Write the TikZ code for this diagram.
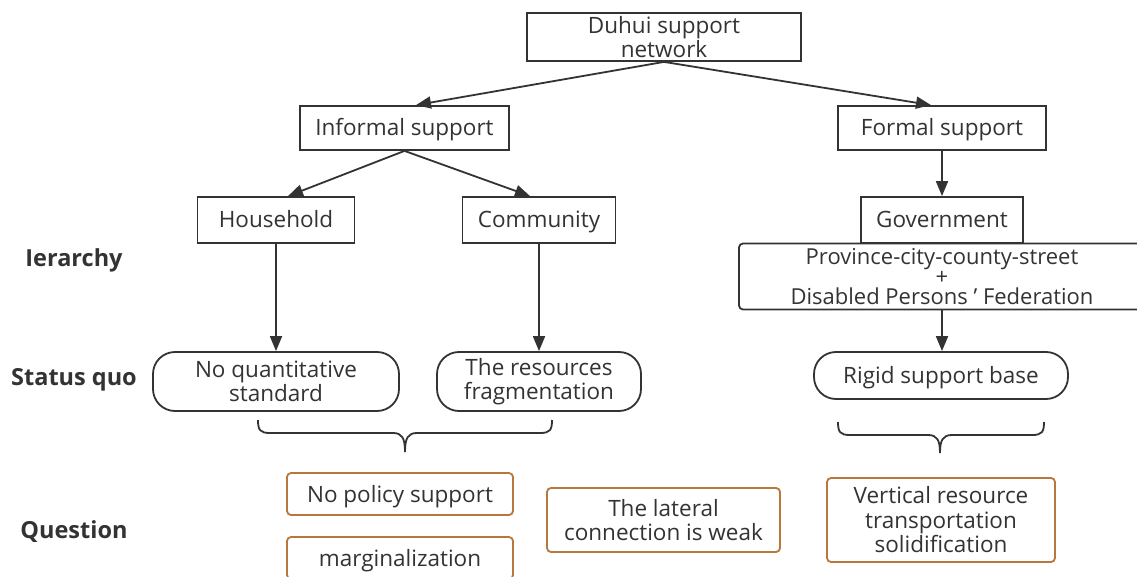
\documentclass[tikz,border=0pt]{standalone}
\usepackage{fontspec}
\setmainfont{Open Sans}
\usetikzlibrary{arrows.meta,calc}
\definecolor{ink}{HTML}{333333}
\definecolor{copper}{RGB}{184,120,60}
\begin{document}
\begin{tikzpicture}[x=1pt,y=-1pt,
 every node/.style={font=\fontsize{22.5}{24.5}\selectfont, text=ink, align=center, inner sep=0pt},
 one/.style={text height=16pt, text depth=0pt},
 box/.style={draw=ink, line width=1.8pt},
 stadium/.style={draw=ink, line width=1.8pt, rounded corners=22pt},
 qbox/.style={draw=copper, line width=1.8pt, rounded corners=4pt},
 lab/.style={font=\fontsize{23.5}{26}\selectfont\bfseries, one},
 arr/.style={draw=ink, line width=1.8pt, -{Triangle[length=15pt,width=12pt]}},
 brace/.style={draw=ink, line width=1.8pt}]
\useasboundingbox (0,0) rectangle (1137,577);
\fill[white] (0,0) rectangle (1137,577);

% top levels
\node[box, minimum width=274pt, minimum height=48pt] (duhui) at (664,37) {Duhui support\\network};
\node[box, one, minimum width=209pt, minimum height=44pt] (inf) at (404.5,128) {Informal support};
\node[box, one, minimum width=208pt, minimum height=44pt] (formal) at (942,128) {Formal support};
\node[box, one, minimum width=157pt, minimum height=46pt] (house) at (276,220) {Household};
\node[box, one, minimum width=153pt, minimum height=46pt] (comm) at (539,220) {Community};
\node[box, one, minimum width=162pt, minimum height=46pt] (gov) at (942,220) {Government};
\node[box, rounded corners=4pt, minimum width=406pt, minimum height=66pt, font=\fontsize{22}{20}\selectfont] (prov) at (942,276.5) {Province-city-county-street\\+\\Disabled Persons ' Federation};

% status quo
\node[stadium, minimum width=246pt, minimum height=59pt] (nq) at (276,381.5) {No quantitative\\standard};
\node[stadium, minimum width=204pt, minimum height=59pt] (res) at (539,381.5) {The resources\\fragmentation};
\node[stadium, one, minimum width=254pt, minimum height=47pt] (rigid) at (941,375.5) {Rigid support base};

% questions
\node[qbox, one, minimum width=226pt, minimum height=42pt] (pol) at (400,494) {No policy support};
\node[qbox, one, minimum width=226pt, minimum height=42pt] (marg) at (400,558) {marginalization};
\node[qbox, minimum width=233pt, minimum height=64pt] (lat) at (663.5,520) {The lateral\\connection is weak};
\node[qbox, minimum width=228pt, minimum height=84pt] (vert) at (941,520) {Vertical resource\\transportation\\solidification};

% row labels
\node[lab] (l1) at (74,258) {Ierarchy};
\node[lab] (l2) at (74,377) {Status quo};
\node[lab] (l3) at (74,530) {Question};

% connectors
\draw[arr] (duhui.south) -- ([xshift=11.5pt]inf.north);
\draw[arr] (duhui.south) -- ([xshift=-11pt]formal.north);
\draw[arr] (inf.south) -- ([xshift=12pt]house.north);
\draw[arr] (inf.south) -- ([xshift=-9pt]comm.north);
\draw[arr] (formal.south) -- (gov.north);
\draw[arr] (house.south) -- (house.south |- nq.north);
\draw[arr] (comm.south) -- (comm.south |- res.north);
\draw[arr] (prov.south) -- (prov.south |- rigid.north);

% braces
\draw[brace] (258,420) .. controls (258,430) and (260,433) .. (270,433) -- (393,433)
  .. controls (402,433) and (405,438) .. (405,452)
  .. controls (405,438) and (408,433) .. (417,433) -- (540,433)
  .. controls (550,433) and (552,430) .. (552,420);
\draw[brace] (838,422) .. controls (838,432) and (840,435) .. (850,435) -- (928,435)
  .. controls (937,435) and (940,440) .. (940,453)
  .. controls (940,440) and (943,435) .. (952,435) -- (1032,435)
  .. controls (1042,435) and (1044,432) .. (1044,422);
\end{tikzpicture}
\end{document}
